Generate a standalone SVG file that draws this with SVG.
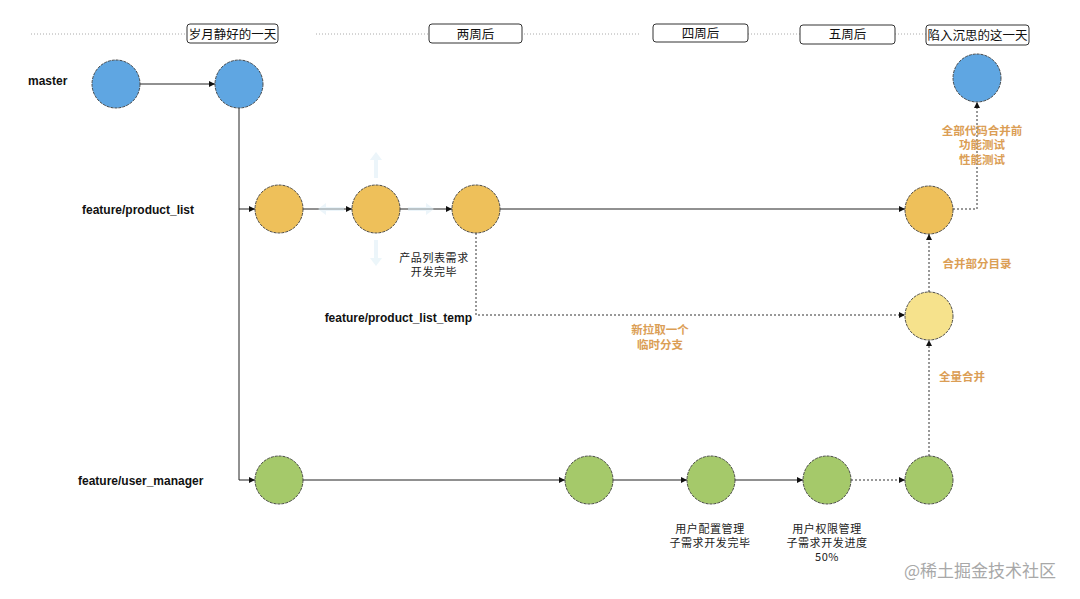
<svg xmlns="http://www.w3.org/2000/svg" width="1080" height="599" viewBox="0 0 1080 599">
<defs>
<style>
.lbl{font-family:"Liberation Sans","Noto Sans CJK SC",sans-serif;font-size:12px;font-weight:bold;fill:#111}
.hdr{font-family:"Noto Sans CJK SC","Liberation Sans",sans-serif;font-size:12.5px;fill:#111;text-anchor:middle}
.note{font-family:"Noto Sans CJK SC","Liberation Sans",sans-serif;font-size:11px;letter-spacing:0.6px;fill:#222;text-anchor:middle}
.org{font-family:"Noto Sans CJK SC","Liberation Sans",sans-serif;font-size:11.5px;font-weight:bold;fill:#DB9E55;text-anchor:middle}
.box{fill:#fff;stroke:#333;stroke-width:1}
.c{stroke:#3a3a3a;stroke-width:0.9;stroke-dasharray:3 1}
.blue{fill:#5FA6E2}
.yel{fill:#EEC05A}
.lyel{fill:#F6E28C}
.grn{fill:#A5C96A}
.ln{fill:none;stroke:#222;stroke-width:1}
.dl{fill:none;stroke:#333;stroke-width:1;stroke-dasharray:2 2}
.hd{fill:none;stroke:#aaa;stroke-width:1;stroke-dasharray:1 2}
.hint{fill:#DDEEF6}
</style>
<marker id="ar" viewBox="0 0 10 10" refX="10" refY="5" markerWidth="6" markerHeight="6" orient="auto" markerUnits="userSpaceOnUse">
<path d="M0,0 L10,5 L0,10 Z" fill="#111"/>
</marker>
</defs>
<rect width="1080" height="599" fill="#fff"/>

<g id="timeline">
<path class="hd" d="M31,34 H188 M316,34 H429 M524,34 H640 M748,34 H800 M895,34 H926"/>
<rect class="box" x="187" y="24" width="91" height="19" rx="3"/>
<text class="hdr" x="232.5" y="38.5">岁月静好的一天</text>
<rect class="box" x="429" y="24" width="93" height="19" rx="3"/>
<text class="hdr" x="475.5" y="38.5">两周后</text>
<rect class="box" x="653" y="24" width="95" height="18" rx="3"/>
<text class="hdr" x="700.5" y="38">四周后</text>
<rect class="box" x="800" y="25" width="95" height="19" rx="3"/>
<text class="hdr" x="847.5" y="39">五周后</text>
<rect class="box" x="926" y="25" width="103" height="20" rx="3"/>
<text class="hdr" x="977.5" y="40">陷入沉思的这一天</text>
</g>

<g id="branch-labels">
<text class="lbl" x="28" y="85">master</text>
<text class="lbl" x="82" y="214">feature/product_list</text>
<text class="lbl" x="472" y="322" text-anchor="end">feature/product_list_temp</text>
<text class="lbl" x="78" y="485">feature/user_manager</text>
</g>

<g id="connectors">
<line class="ln" x1="140" y1="84" x2="215" y2="84" marker-end="url(#ar)"/>
<path class="ln" d="M239,108 V480 H255" marker-end="url(#ar)"/>
<path class="ln" d="M239,209 H255" marker-end="url(#ar)"/>
<line class="ln" x1="303" y1="209" x2="352" y2="209" marker-end="url(#ar)"/>
<line class="ln" x1="400" y1="209" x2="452" y2="209" marker-end="url(#ar)"/>
<line class="ln" x1="500" y1="209" x2="905" y2="209" marker-end="url(#ar)"/>
<path class="dl" d="M476,233 V315 H905" marker-end="url(#ar)"/>
<line class="dl" x1="929" y1="292" x2="929" y2="234" marker-end="url(#ar)"/>
<path class="dl" d="M953,209 H977 V102" marker-end="url(#ar)"/>
<line class="ln" x1="303" y1="480" x2="565" y2="480" marker-end="url(#ar)"/>
<line class="ln" x1="613" y1="480" x2="687" y2="480" marker-end="url(#ar)"/>
<line class="ln" x1="735" y1="480" x2="803" y2="480" marker-end="url(#ar)"/>
<line class="dl" x1="851" y1="480" x2="905" y2="480" marker-end="url(#ar)"/>
<line class="dl" x1="929" y1="456" x2="929" y2="340" marker-end="url(#ar)"/>
</g>

<g id="hover-hints" opacity="0.55">
<path class="hint" d="M376,152 L370,160 L374,160 L374,178 L378,178 L378,160 L382,160 Z"/>
<path class="hint" d="M376,266 L370,258 L374,258 L374,240 L378,240 L378,258 L382,258 Z"/>
<path class="hint" d="M318,209 L326,203 L326,207 L344,207 L344,211 L326,211 L326,215 Z"/>
<path class="hint" d="M434,209 L426,203 L426,207 L408,207 L408,211 L426,211 L426,215 Z"/>
</g>

<g id="m1"><circle class="c blue" cx="116" cy="84" r="24"/></g>
<g id="m2"><circle class="c blue" cx="239" cy="84" r="24"/></g>
<g id="m3"><circle class="c blue" cx="977" cy="78" r="24"/></g>

<g id="p1"><circle class="c yel" cx="279" cy="209" r="24"/></g>
<g id="p2"><circle class="c yel" cx="376" cy="209" r="24"/></g>
<g id="p3"><circle class="c yel" cx="476" cy="209" r="24"/>
<text class="note" x="434" y="262">产品列表需求</text>
<text class="note" x="434" y="276">开发完毕</text></g>
<g id="p4"><circle class="c yel" cx="929" cy="210" r="24"/></g>

<g id="t1"><circle class="c lyel" cx="929" cy="316" r="24"/></g>

<g id="u1"><circle class="c grn" cx="279" cy="480" r="24"/></g>
<g id="u2"><circle class="c grn" cx="589" cy="480" r="24"/></g>
<g id="u3"><circle class="c grn" cx="711" cy="480" r="24"/>
<text class="note" x="710" y="533">用户配置管理</text>
<text class="note" x="710" y="547">子需求开发完毕</text></g>
<g id="u4"><circle class="c grn" cx="827" cy="480" r="24"/>
<text class="note" x="827" y="533">用户权限管理</text>
<text class="note" x="827" y="547">子需求开发进度</text>
<text class="note" x="827" y="561">50%</text></g>
<g id="u5"><circle class="c grn" cx="929" cy="480" r="24"/></g>

<g id="annotations">
<text class="org" x="982" y="135">全部代码合并前</text>
<text class="org" x="982" y="149">功能测试</text>
<text class="org" x="982" y="164">性能测试</text>
<text class="org" x="977" y="268">合并部分目录</text>
<text class="org" x="660" y="334">新拉取一个</text>
<text class="org" x="660" y="349">临时分支</text>
<text class="org" x="962" y="381">全量合并</text>
</g>

<text x="980" y="577" text-anchor="middle" font-family="Noto Sans CJK SC, sans-serif" font-size="17" fill="#a8a8a8">@稀土掘金技术社区</text>
</svg>
